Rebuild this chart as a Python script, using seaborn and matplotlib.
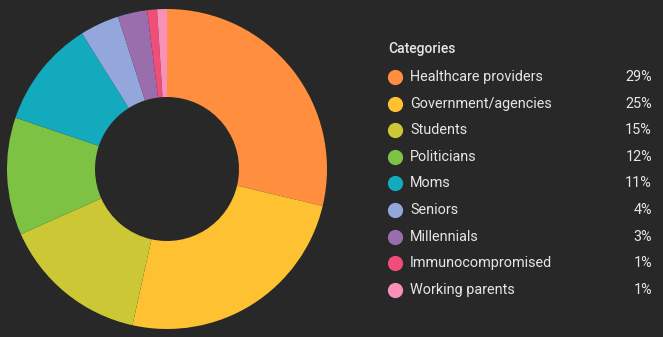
import matplotlib
matplotlib.use("Agg")
import matplotlib.pyplot as plt
import seaborn as sns

categories = ["Healthcare providers", "Government/agencies", "Students", "Politicians",
              "Moms", "Seniors", "Millennials", "Immunocompromised", "Working parents"]
shares = [29, 25, 15, 12, 11, 4, 3, 1, 1]
colors = ["#FF8F3F", "#FDC131", "#CCC835", "#7EC244", "#13AABE",
          "#94A7DC", "#9A6EAD", "#EE4E78", "#F890B8"]

BG = "#282828"
TXT = "#E6E6E6"

sns.set_theme(style="dark")
plt.rcParams["font.family"] = ["Roboto", "DejaVu Sans"]

fig = plt.figure(figsize=(6.63, 3.37), dpi=100, facecolor=BG)

# donut
ax = fig.add_axes([7 / 663, 8 / 337, 320 / 663, 320 / 337])
ax.set_facecolor(BG)
ax.pie(shares, colors=colors, startangle=90, counterclock=False,
       wedgeprops=dict(width=0.55, linewidth=0))
ax.set_xlim(-1, 1)
ax.set_ylim(-1, 1)
ax.set_aspect("equal")
ax.axis("off")

# legend panel in pixel coordinates
lg = fig.add_axes([0, 0, 1, 1], facecolor="none")
lg.set_xlim(0, 663)
lg.set_ylim(337, 0)
lg.axis("off")
lg.text(388, 49, "Categories", color=TXT, fontsize=10, fontweight="medium",
        va="center", ha="left")
for i, (name, val, col) in enumerate(zip(categories, shares, colors)):
    y = 77 + i * 26.6
    lg.scatter([395], [y], s=120, color=col, linewidths=0)
    lg.text(410, y, name, color=TXT, fontsize=10.4, va="center", ha="left")
    lg.text(652, y, f"{val}%", color=TXT, fontsize=10.4, va="center", ha="right")

fig.savefig("out.png", dpi=100, facecolor=BG)
